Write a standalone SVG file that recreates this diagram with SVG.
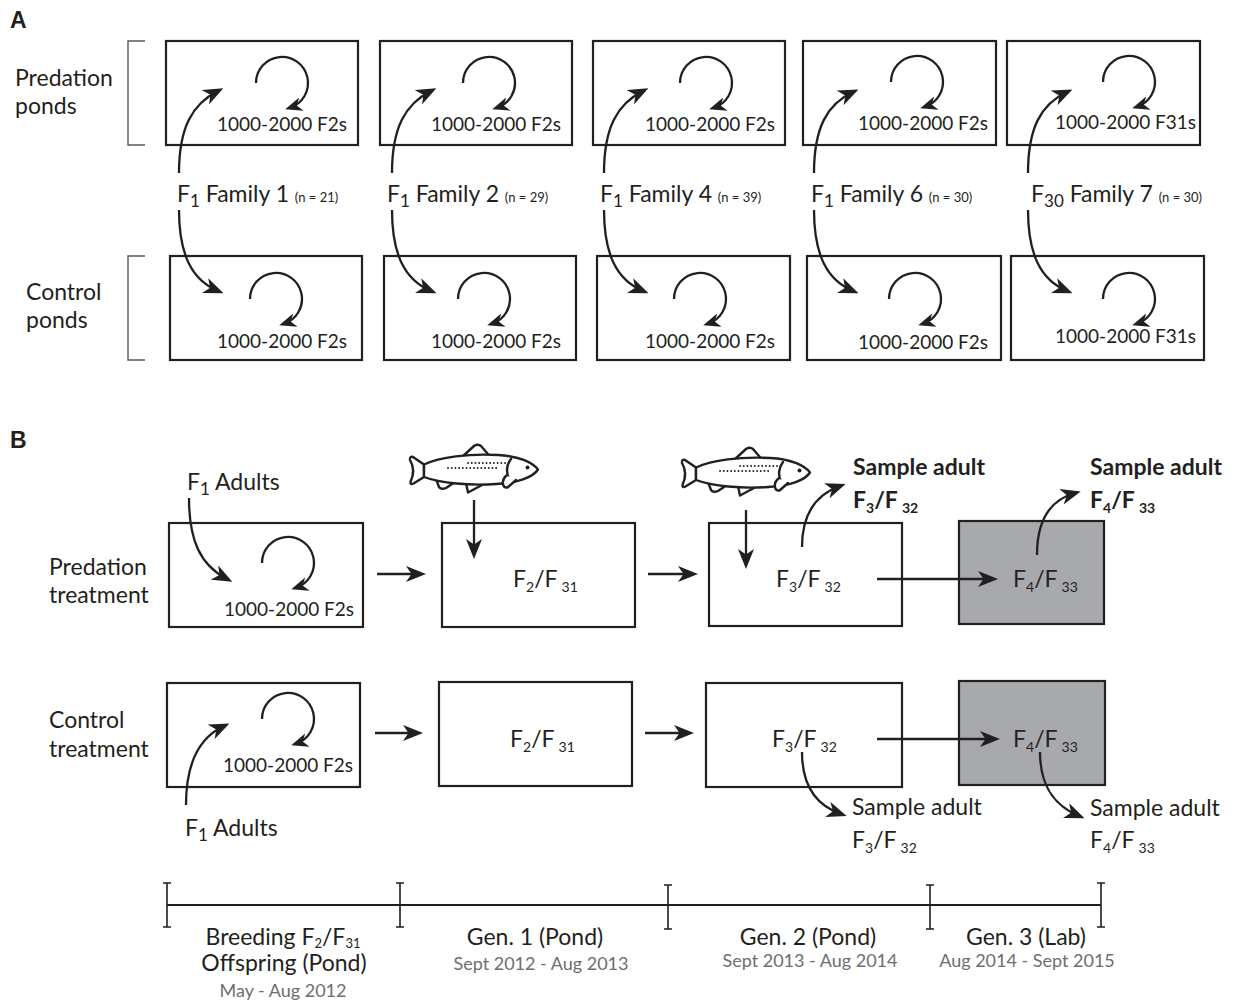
<svg xmlns="http://www.w3.org/2000/svg" xmlns:xlink="http://www.w3.org/1999/xlink" width="1237" height="1001" viewBox="0 0 1237 1001">
  <style>
    text { font-family: Lato, "Open Sans", "Liberation Sans", sans-serif; fill: #231f20; }
    .lbl { font-size: 23px; }
    .cnt { font-size: 19px; }
    .small { font-size: 13px; }
    .sub { font-size: 14px; }
    .tsub { font-size: 13px; }
    .sub2 { font-size: 17px; }
    .bold { font-weight: bold; }
    .date { font-size: 18px; fill: #6d6e71; }
    .panel { font-family: "Liberation Sans", Arial, sans-serif; font-weight: bold; font-size: 23px; }
    .box { fill: #ffffff; stroke: #231f20; stroke-width: 2.2; }
    .grey { fill: #a7a9ac; stroke: #231f20; stroke-width: 2.2; }
    .bracket { fill: none; stroke: #58595b; stroke-width: 1.4; }
    .arrow { fill: none; stroke: #231f20; stroke-width: 2.3; marker-end: url(#ah); }
    .loop { fill: none; stroke: #231f20; stroke-width: 2.3; marker-end: url(#ahs); }
    .tl { fill: none; stroke: #231f20; stroke-width: 1.6; }
    .fish { fill: #ffffff; stroke: #231f20; stroke-width: 2.4; stroke-linejoin: round; stroke-linecap: round; }
    .spots { fill: none; stroke: #231f20; stroke-width: 1.8; stroke-linecap: round; stroke-dasharray: 0.1 3.6; }
  </style>
  <defs>
    <marker id="ah" viewBox="0 0 20 16" refX="14" refY="8" markerWidth="20" markerHeight="16" markerUnits="userSpaceOnUse" orient="auto">
      <path d="M0,0 L20,8 L0,16 L5.5,8 z" fill="#231f20"/>
    </marker>
    <marker id="ahs" viewBox="0 0 17 14" refX="12" refY="7" markerWidth="17" markerHeight="14" markerUnits="userSpaceOnUse" orient="auto">
      <path d="M0,0 L17,7 L0,14 L5,7 z" fill="#231f20"/>
    </marker>
    <!-- self-loop drawn around the origin -->
    <path id="selfloop" class="loop" d="M -26 0 A 26 26 0 1 1 8 24.7"/>
    <!-- trout outline, drawn at its first position -->
    <g id="trout">
      <path class="fish" d="M462 457 L474 446 Q478 443.5 481 446 L490 456.5"/>
      <path class="fish" d="M436 479 L439 487 Q441 490 446 488 L455 482"/>
      <path class="fish" d="M466 483 L468 492.5 L482 485"/>
      <path class="fish" d="M424 464.5 L413 457 Q409.5 456 410 460 Q416 470 410.5 482 Q410 485 413.5 483.5 L424 477 Z"/>
      <path class="fish" d="M424 464.5 C440 457 468 453.5 498 455 C520 456 533 463 538 469.5 C533 477.5 517 483 496 484 C470 486 440 483 424 477 Z"/>
      <path class="fish" d="M511 459 C506 465.5 506 473 509.5 480.5"/>
      <path class="fish" d="M506.5 475.5 C501 480 502 488 507.5 487.5 L516 480"/>
      <circle cx="527.5" cy="467.5" r="2" fill="#231f20"/>
      <path class="spots" d="M468 463 L506 463 M448 468 L498 468"/>
    </g>
  </defs>

  <!-- Panel A -->
  <text class="panel" x="10" y="28">A</text>
  <text class="lbl" x="15" y="86">Predation</text>
  <text class="lbl" x="15" y="114">ponds</text>
  <text class="lbl" x="26" y="300">Control</text>
  <text class="lbl" x="26" y="328">ponds</text>
  <path class="bracket" d="M145 41 L128 41 L128 145 L145 145"/>
  <path class="bracket" d="M145 256 L128 256 L128 360 L145 360"/>

  <!-- predation ponds -->
  <g id="pondP1"><rect class="box" x="166" y="41" width="192" height="104"/><use xlink:href="#selfloop" x="282" y="83"/><text class="cnt" x="217" y="131">1000-2000 F2s</text></g>
  <g id="pondP2"><rect class="box" x="380" y="41" width="192" height="104"/><use xlink:href="#selfloop" x="489" y="83"/><text class="cnt" x="431" y="131">1000-2000 F2s</text></g>
  <g id="pondP4"><rect class="box" x="593" y="41" width="192" height="104"/><use xlink:href="#selfloop" x="706" y="83"/><text class="cnt" x="645" y="131">1000-2000 F2s</text></g>
  <g id="pondP6"><rect class="box" x="803" y="41" width="193" height="104"/><use xlink:href="#selfloop" x="917" y="82"/><text class="cnt" x="858" y="130">1000-2000 F2s</text></g>
  <g id="pondP7"><rect class="box" x="1007" y="41" width="193" height="104"/><use xlink:href="#selfloop" x="1129" y="82"/><text class="cnt" x="1055" y="129">1000-2000 F31s</text></g>

  <!-- control ponds -->
  <g id="pondC1"><rect class="box" x="170" y="256" width="192" height="104"/><use xlink:href="#selfloop" x="276" y="299"/><text class="cnt" x="217" y="348">1000-2000 F2s</text></g>
  <g id="pondC2"><rect class="box" x="384" y="256" width="192" height="104"/><use xlink:href="#selfloop" x="484" y="299"/><text class="cnt" x="431" y="348">1000-2000 F2s</text></g>
  <g id="pondC4"><rect class="box" x="597" y="256" width="193" height="104"/><use xlink:href="#selfloop" x="700" y="299"/><text class="cnt" x="645" y="348">1000-2000 F2s</text></g>
  <g id="pondC6"><rect class="box" x="807" y="256" width="194" height="104"/><use xlink:href="#selfloop" x="915" y="299"/><text class="cnt" x="858" y="349">1000-2000 F2s</text></g>
  <g id="pondC7"><rect class="box" x="1011" y="256" width="193" height="104"/><use xlink:href="#selfloop" x="1129" y="299"/><text class="cnt" x="1055" y="343">1000-2000 F31s</text></g>

  <!-- family labels -->
  <g id="families">
    <text class="lbl" x="177" y="202">F<tspan class="sub2" dy="5">1</tspan><tspan dy="-5"> Family 1 </tspan><tspan class="small">(n = 21)</tspan></text>
    <text class="lbl" x="387" y="202">F<tspan class="sub2" dy="5">1</tspan><tspan dy="-5"> Family 2 </tspan><tspan class="small">(n = 29)</tspan></text>
    <text class="lbl" x="600" y="202">F<tspan class="sub2" dy="5">1</tspan><tspan dy="-5"> Family 4 </tspan><tspan class="small">(n = 39)</tspan></text>
    <text class="lbl" x="811" y="202">F<tspan class="sub2" dy="5">1</tspan><tspan dy="-5"> Family 6 </tspan><tspan class="small">(n = 30)</tspan></text>
    <text class="lbl" x="1031" y="202">F<tspan class="sub2" dy="5">30</tspan><tspan dy="-5"> Family 7 </tspan><tspan class="small">(n = 30)</tspan></text>
  </g>

  <!-- Panel B -->
  <text class="panel" x="10" y="448">B</text>
  <text class="lbl" x="49" y="575">Predation</text>
  <text class="lbl" x="49" y="603">treatment</text>
  <text class="lbl" x="49" y="728">Control</text>
  <text class="lbl" x="49" y="757">treatment</text>

  <g id="adultsP"><text class="lbl" x="187" y="490">F<tspan class="sub2" dy="5">1</tspan><tspan dy="-5"> Adults</tspan></text></g>
  <g id="adultsC"><text class="lbl" x="185" y="836">F<tspan class="sub2" dy="5">1</tspan><tspan dy="-5"> Adults</tspan></text></g>

  <g id="breedP"><rect class="box" x="169" y="523" width="194" height="104"/><use xlink:href="#selfloop" x="288" y="563"/><text class="cnt" x="224" y="616">1000-2000 F2s</text></g>
  <g id="gen1P"><rect class="box" x="442" y="523" width="193" height="104"/><text class="lbl" x="513" y="587">F<tspan class="sub" dy="5">2</tspan><tspan dy="-5">/F</tspan><tspan class="sub" dx="4" dy="5">31</tspan></text></g>
  <g id="gen2P"><rect class="box" x="709" y="523" width="193" height="103"/><text class="lbl" x="776" y="587">F<tspan class="sub" dy="5">3</tspan><tspan dy="-5">/F</tspan><tspan class="sub" dx="4" dy="5">32</tspan></text></g>
  <g id="gen3P"><rect class="grey" x="959" y="521" width="145" height="103"/><text class="lbl" x="1013" y="587">F<tspan class="sub" dy="5">4</tspan><tspan dy="-5">/F</tspan><tspan class="sub" dx="4" dy="5">33</tspan></text></g>

  <g id="breedC"><rect class="box" x="167" y="683" width="193" height="104"/><use xlink:href="#selfloop" x="288" y="719"/><text class="cnt" x="223" y="772">1000-2000 F2s</text></g>
  <g id="gen1C"><rect class="box" x="439" y="682" width="193" height="104"/><text class="lbl" x="510" y="747">F<tspan class="sub" dy="5">2</tspan><tspan dy="-5">/F</tspan><tspan class="sub" dx="4" dy="5">31</tspan></text></g>
  <g id="gen2C"><rect class="box" x="706" y="683" width="196" height="104"/><text class="lbl" x="772" y="747">F<tspan class="sub" dy="5">3</tspan><tspan dy="-5">/F</tspan><tspan class="sub" dx="4" dy="5">32</tspan></text></g>
  <g id="gen3C"><rect class="grey" x="959" y="681" width="146" height="104"/><text class="lbl" x="1013" y="747">F<tspan class="sub" dy="5">4</tspan><tspan dy="-5">/F</tspan><tspan class="sub" dx="4" dy="5">33</tspan></text></g>

  <!-- predators added to the ponds -->
  <g id="fish1"><use xlink:href="#trout"/></g>
  <g id="fish2"><use xlink:href="#trout" transform="translate(272,3)"/></g>

  <!-- sampled adults -->
  <g id="sampleP3"><text class="lbl bold" x="853" y="475">Sample adult</text><text class="lbl bold" x="853" y="508">F<tspan class="sub" dy="5">3</tspan><tspan dy="-5">/F</tspan><tspan class="sub" dx="4" dy="5">32</tspan></text></g>
  <g id="sampleP4"><text class="lbl bold" x="1090" y="475">Sample adult</text><text class="lbl bold" x="1090" y="508">F<tspan class="sub" dy="5">4</tspan><tspan dy="-5">/F</tspan><tspan class="sub" dx="4" dy="5">33</tspan></text></g>
  <g id="sampleC3"><text class="lbl" x="852" y="815">Sample adult</text><text class="lbl" x="852" y="848">F<tspan class="sub" dy="5">3</tspan><tspan dy="-5">/F</tspan><tspan class="sub" dx="4" dy="5">32</tspan></text></g>
  <g id="sampleC4"><text class="lbl" x="1090" y="816">Sample adult</text><text class="lbl" x="1090" y="848">F<tspan class="sub" dy="5">4</tspan><tspan dy="-5">/F</tspan><tspan class="sub" dx="4" dy="5">33</tspan></text></g>

  <!-- connectors -->
  <g id="connectors">
    <!-- family split into predation and control ponds -->
    <path class="arrow" d="M179 173 C179 128 192 104 218 91"/>
    <path class="arrow" d="M179 210 C179 255 192 280 218 291"/>
    <path class="arrow" d="M392 173 C392 128 405 104 431 91"/>
    <path class="arrow" d="M392 210 C392 255 405 280 431 291"/>
    <path class="arrow" d="M604 173 C604 128 617 104 643 91"/>
    <path class="arrow" d="M604 210 C604 255 617 280 643 291"/>
    <path class="arrow" d="M814 173 C814 128 827 104 853 92"/>
    <path class="arrow" d="M814 210 C814 255 827 280 853 291"/>
    <path class="arrow" d="M1028 173 C1028 128 1041 104 1067 92"/>
    <path class="arrow" d="M1028 210 C1028 255 1041 280 1067 291"/>

    <!-- adults into breeding ponds -->
    <path class="arrow" d="M189 498 C189 540 200 565 227 579"/>
    <path class="arrow" d="M186 805 C186 765 198 738 224 726"/>

    <!-- generation to generation -->
    <path class="arrow" d="M377 574 L420 574"/>
    <path class="arrow" d="M648 574 L692 574"/>
    <path class="arrow" d="M877 579 L992 579"/>
    <path class="arrow" d="M375 733 L417 733"/>
    <path class="arrow" d="M645 733 L688 733"/>
    <path class="arrow" d="M877 739 L994 739"/>

    <!-- predator introductions -->
    <path class="arrow" d="M474 500 L474 553"/>
    <path class="arrow" d="M746 510 L746 563"/>

    <!-- sampling -->
    <path class="arrow" d="M802 547 C802 515 815 495 840 486"/>
    <path class="arrow" d="M1037 555 C1037 520 1050 500 1075 493"/>
    <path class="arrow" d="M802 752 C802 785 815 805 841 814"/>
    <path class="arrow" d="M1040 752 C1040 785 1053 805 1079 816"/>
  </g>

  <!-- timeline -->
  <g id="timeline">
    <path class="tl" style="stroke-width:2" d="M167 905 L1101 905"/>
    <path class="tl" d="M167 883 L167 927 M400 883 L400 927 M668 885 L668 929 M930 885 L930 929 M1101 883 L1101 927"/>
    <path class="tl" d="M163 883 L171 883 M163 927 L171 927 M396 883 L404 883 M396 927 L404 927 M664 885 L672 885 M664 929 L672 929 M926 885 L934 885 M926 929 L934 929 M1097 883 L1105 883 M1097 927 L1105 927"/>
    <text class="lbl" x="283" y="945" text-anchor="middle">Breeding F<tspan class="tsub" dy="3">2</tspan><tspan dy="-3">/F</tspan><tspan class="tsub" dy="3">31</tspan></text>
    <text class="lbl" x="284" y="971" text-anchor="middle">Offspring (Pond)</text>
    <text class="date" x="283" y="997" text-anchor="middle">May - Aug 2012</text>
    <text class="lbl" x="535" y="945" text-anchor="middle">Gen. 1 (Pond)</text>
    <text class="date" x="541" y="970" text-anchor="middle">Sept 2012 - Aug 2013</text>
    <text class="lbl" x="808" y="945" text-anchor="middle">Gen. 2 (Pond)</text>
    <text class="date" x="810" y="967" text-anchor="middle">Sept 2013 - Aug 2014</text>
    <text class="lbl" x="1026" y="945" text-anchor="middle">Gen. 3 (Lab)</text>
    <text class="date" x="1027" y="967" text-anchor="middle">Aug 2014 - Sept 2015</text>
  </g>
</svg>
